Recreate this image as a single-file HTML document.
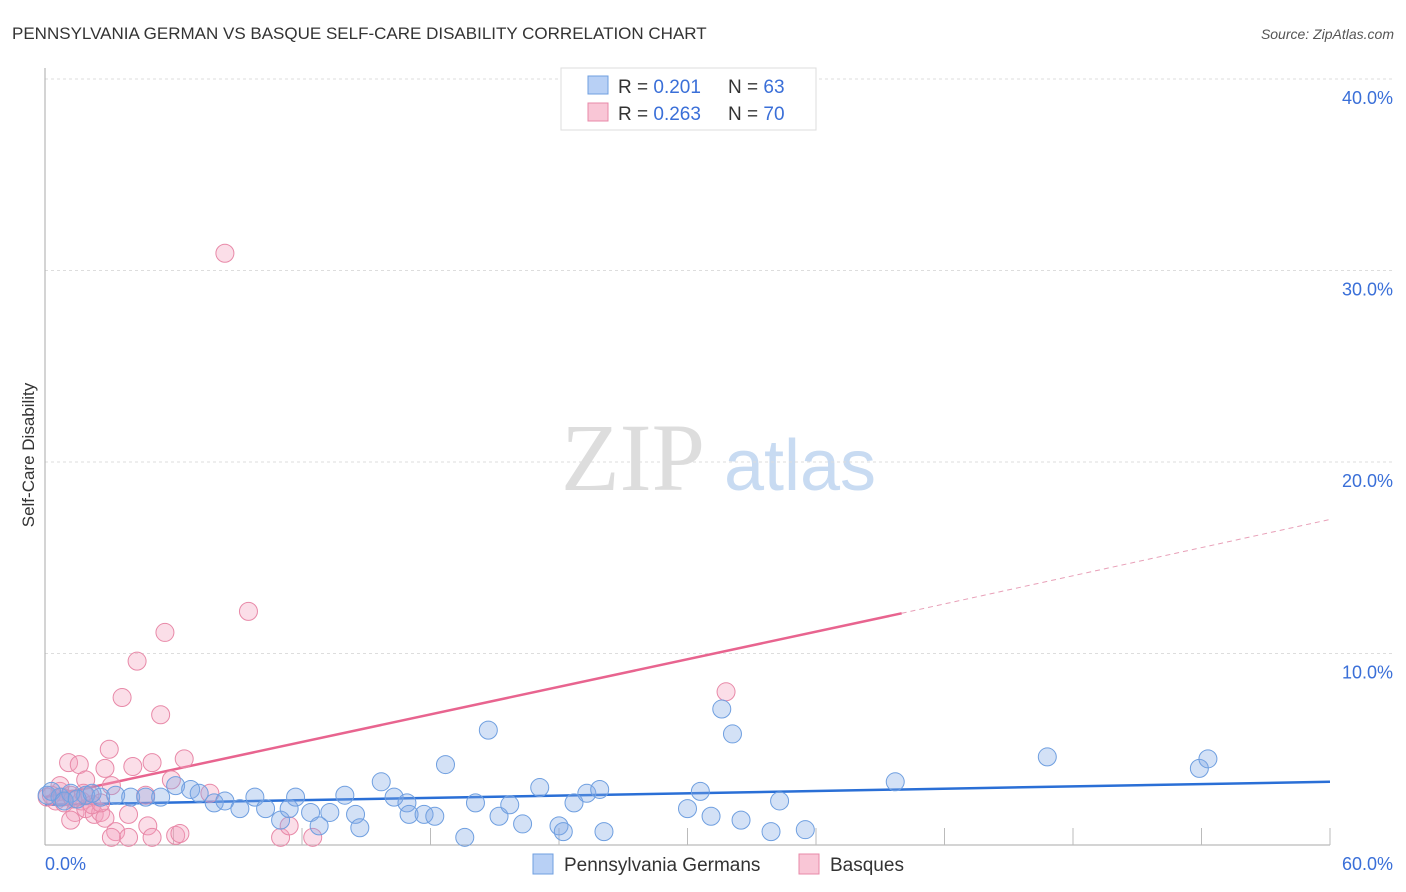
<!DOCTYPE html>
<html><head><meta charset="utf-8"><style>
body{margin:0;background:#fff;font-family:"Liberation Sans",sans-serif}
svg{display:block}
</style></head><body>
<svg id="chart" width="1406" height="892">
<text x="12" y="39" font-size="17" fill="#333">PENNSYLVANIA GERMAN VS BASQUE SELF-CARE DISABILITY CORRELATION CHART</text>
<text x="1394" y="39" font-size="14" fill="#555" text-anchor="end" font-style="italic">Source: ZipAtlas.com</text>
<g>
<text x="633" y="490" font-size="96" fill="#ddd" text-anchor="middle" font-family="Liberation Serif,serif">ZIP</text>
<text x="800" y="490" font-size="72" fill="#c8dbf2" text-anchor="middle">atlas</text>
</g>
<g id="grid"></g>
<g id="axes"></g>
<g id="lines"></g>
<g id="pts"></g>
<text transform="translate(34,455) rotate(-90)" font-size="17" fill="#333" text-anchor="middle">Self-Care Disability</text>
<g>
<rect x="561" y="68" width="255" height="62" fill="#fff" stroke="#ddd"/>
<rect x="588" y="76" width="20" height="18" fill="#b8d0f5" stroke="#6f9fe0"/>
<rect x="588" y="103" width="20" height="18" fill="#f9c6d6" stroke="#e889a8"/>
<text x="618" y="93" font-size="19" fill="#333">R = <tspan fill="#3a6fd8">0.201</tspan><tspan x="728">N = </tspan><tspan fill="#3a6fd8">63</tspan></text>
<text x="618" y="120" font-size="19" fill="#333">R = <tspan fill="#3a6fd8">0.263</tspan><tspan x="728">N = </tspan><tspan fill="#3a6fd8">70</tspan></text>
</g>
<g>
<rect x="533" y="854" width="20" height="20" fill="#b8d0f5" stroke="#6f9fe0"/>
<text x="564" y="871" font-size="19" fill="#333">Pennsylvania Germans</text>
<rect x="799" y="854" width="20" height="20" fill="#f9c6d6" stroke="#e889a8"/>
<text x="830" y="871" font-size="19" fill="#333">Basques</text>
</g>
</svg>
<script>
const yTicks=[10,20,30,40];
const xTickLabels=["0.0%","60.0%"];
const blueX=[0.1,0.7,1.2,1.9,2.6,3.3,4.0,4.7,5.4,6.1,6.8,7.2,7.9,8.4,9.1,9.8,10.3,11.0,11.4,11.7,12.4,12.8,13.3,14.0,14.5,14.7,15.7,16.3,16.9,17.0,17.7,18.2,18.7,19.6,20.1,20.7,21.2,21.7,22.3,23.1,24.0,24.2,24.7,25.3,25.9,26.1,30.0,30.6,31.1,31.6,32.1,32.5,33.9,34.3,35.5,39.7,46.8,53.9,54.3,0.3,0.9,1.5,2.2];
const blueY=[2.6,2.5,2.7,2.6,2.5,2.6,2.5,2.5,2.5,3.1,2.9,2.7,2.2,2.3,1.9,2.5,1.9,1.3,1.9,2.5,1.7,1.0,1.7,2.6,1.6,0.9,3.3,2.5,2.2,1.6,1.6,1.5,4.2,0.4,2.2,6.0,1.5,2.1,1.1,3.0,1.0,0.7,2.2,2.7,2.9,0.7,1.9,2.8,1.5,7.1,5.8,1.3,0.7,2.3,0.8,3.3,4.6,4.0,4.5,2.8,2.3,2.4,2.7];
const pinkX=[0.1,0.5,0.7,0.9,1.2,1.4,1.7,1.9,2.1,2.3,2.6,2.8,1.1,1.6,1.9,2.8,3.0,3.1,3.3,3.6,3.9,4.1,4.3,4.7,4.8,5.0,5.0,5.4,5.6,5.9,6.1,6.3,6.5,7.7,8.4,9.5,11.0,11.4,12.5,31.8,3.9,3.1,0.7,2.2,1.2,2.6,0.3,0.8,1.3,1.8];
const pinkY=[2.5,2.3,2.8,2.2,2.6,1.7,2.3,1.9,2.6,1.6,1.7,1.4,4.3,4.2,3.4,4.0,5.0,3.1,0.7,7.7,1.6,4.1,9.6,2.6,1.0,0.4,4.3,6.8,11.1,3.4,0.5,0.6,4.5,2.7,30.9,12.2,0.4,1.0,0.4,8.0,0.4,0.4,3.1,2.1,1.3,2.2,2.6,2.5,2.4,2.7];
const blueTrend=[2.1,3.3];
const pinkTrend=[2.5,12.1,17.0];
const X0=45,X1=1330,Y0=845,YPX=19.15;
const sx=v=>X0+(v/60)*(X1-X0);
const sy=v=>Y0-v*YPX;
const NS="http://www.w3.org/2000/svg";
function mk(tag,attrs,parent){const e=document.createElementNS(NS,tag);for(const k in attrs)e.setAttribute(k,attrs[k]);parent.appendChild(e);return e;}
const grid=document.getElementById('grid');
yTicks.forEach(t=>{
 const l=mk('line',{x1:X0,x2:1393,y1:sy(t),y2:sy(t),stroke:'#ddd','stroke-dasharray':'3,3'},grid);
 
 
 const tx=mk('text',{x:1393,y:sy(t)+25,'font-size':18,fill:'#3a6fd8','text-anchor':'end'},grid);
 tx.textContent=t.toFixed(1)+'%';
 
 
});
const ax=document.getElementById('axes');
mk('line',{x1:X0,x2:X0,y1:68,y2:Y0,stroke:'#aaa'},ax);
mk('line',{x1:X0,x2:X1,y1:Y0,y2:Y0,stroke:'#aaa'},ax);
for(let i=1;i<=10;i++){mk('line',{x1:sx(i*6),x2:sx(i*6),y1:Y0-17,y2:Y0,stroke:'#bbb'},ax);}
const xl=mk('text',{x:45,y:870,'font-size':18,fill:'#3a6fd8'},ax);xl.textContent=xTickLabels[0];


const xr=mk('text',{x:1393,y:870,'font-size':18,fill:'#3a6fd8','text-anchor':'end'},ax);xr.textContent=xTickLabels[1];


const pts=document.getElementById('pts');
pinkX.forEach((x,i)=>{const c=mk('circle',{cx:sx(x),cy:sy(pinkY[i]),r:9,fill:'rgba(244,160,188,0.35)',stroke:'#e889a8','stroke-width':1},pts);
 
 });
blueX.forEach((x,i)=>{const c=mk('circle',{cx:sx(x),cy:sy(blueY[i]),r:9,fill:'rgba(130,170,230,0.35)',stroke:'#6f9fe0','stroke-width':1},pts);
 
 });
const ln=document.getElementById('lines');
const b=mk('line',{x1:sx(0),y1:sy(blueTrend[0]),x2:sx(60),y2:sy(blueTrend[1]),stroke:'#2a6fd6','stroke-width':2.5},ln);


const p=mk('line',{x1:sx(0),y1:sy(pinkTrend[0]),x2:sx(40),y2:sy(pinkTrend[1]),stroke:'#e8648f','stroke-width':2.5},ln);


const pd=mk('line',{x1:sx(40),y1:sy(pinkTrend[1]),x2:sx(60),y2:sy(pinkTrend[2]),stroke:'#e8a0b8','stroke-width':1,'stroke-dasharray':'5,4'},ln);


</script>
</body></html>
